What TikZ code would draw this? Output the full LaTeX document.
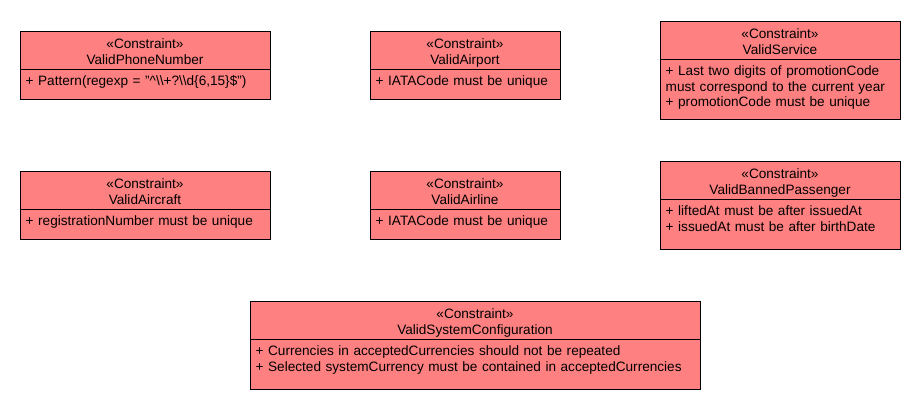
\documentclass[tikz,border=0pt]{standalone}
\usepackage{fontspec}
\setmainfont{Liberation Sans}
\usepackage{xcolor}
\usepackage{tikz}

\definecolor{constraintred}{RGB}{255,128,128}

\tikzset{
  cbox/.style={draw=black, line width=1pt, fill=constraintred},
  cline/.style={draw=black, line width=1pt},
  ctitle/.style={anchor=base, inner sep=0pt, text width=236pt, align=center,
    font=\fontsize{13.6}{16}\selectfont},
  crule/.style={anchor=base west, inner sep=0pt, text width=470pt, align=left,
    font=\fontsize{13.6}{15.5}\selectfont}
}

\begin{document}
\begin{tikzpicture}[x=1pt, y=-1pt]
		\useasboundingbox (0,0) rectangle (920,410);

		% ValidPhoneNumber
		\draw[cbox] (20,31) rectangle (270,99);
		\draw[cline] (20,69) -- (270,69);
		\node[ctitle] (phone) at (145,48.3) {«Constraint»\\ValidPhoneNumber};
		\node[crule] (phoneRule) at (25.5,85.5) {+ Pattern(regexp = "\textasciicircum\textbackslash\textbackslash+?\textbackslash\textbackslash d\{6,15\}\$")};

		% ValidAirport
		\draw[cbox] (370,31) rectangle (560,99);
		\draw[cline] (370,69) -- (560,69);
		\node[ctitle] (airport) at (465,48.3) {«Constraint»\\ValidAirport};
		\node[crule] (airportRule) at (375.5,85.5) {+ IATACode must be unique};

		% ValidService
		\draw[cbox] (660,21) rectangle (900,119);
		\draw[cline] (660,59) -- (900,59);
		\node[ctitle] (service) at (780,38.3) {«Constraint»\\ValidService};
		\node[crule] (serviceRule) at (665.5,75.5) {+ Last two digits of promotionCode\\must correspond to the current year\\+ promotionCode must be unique};

		% ValidAircraft
		\draw[cbox] (20,171) rectangle (270,239);
		\draw[cline] (20,209) -- (270,209);
		\node[ctitle] (aircraft) at (145,188.3) {«Constraint»\\ValidAircraft};
		\node[crule] (aircraftRule) at (25.5,225.5) {+ registrationNumber must be unique};

		% ValidAirline
		\draw[cbox] (370,171) rectangle (560,239);
		\draw[cline] (370,209) -- (560,209);
		\node[ctitle] (airline) at (465,188.3) {«Constraint»\\ValidAirline};
		\node[crule] (airlineRule) at (375.5,225.5) {+ IATACode must be unique};

		% ValidBannedPassenger
		\draw[cbox] (660,161) rectangle (900,249);
		\draw[cline] (660,199) -- (900,199);
		\node[ctitle] (banned) at (780,178.3) {«Constraint»\\ValidBannedPassenger};
		\node[crule] (bannedRule) at (665.5,215.5) {+ liftedAt must be after issuedAt\\+ issuedAt must be after birthDate};

		% ValidSystemConfiguration
		\draw[cbox] (250,301) rectangle (700,389);
		\draw[cline] (250,339) -- (700,339);
		\node[ctitle] (system) at (475,318.3) {«Constraint»\\ValidSystemConfiguration};
		\node[crule] (systemRule) at (255.5,355.5) {+ Currencies in acceptedCurrencies should not be repeated\\+ Selected systemCurrency must be contained in acceptedCurrencies};
	\end{tikzpicture}
\end{document}
